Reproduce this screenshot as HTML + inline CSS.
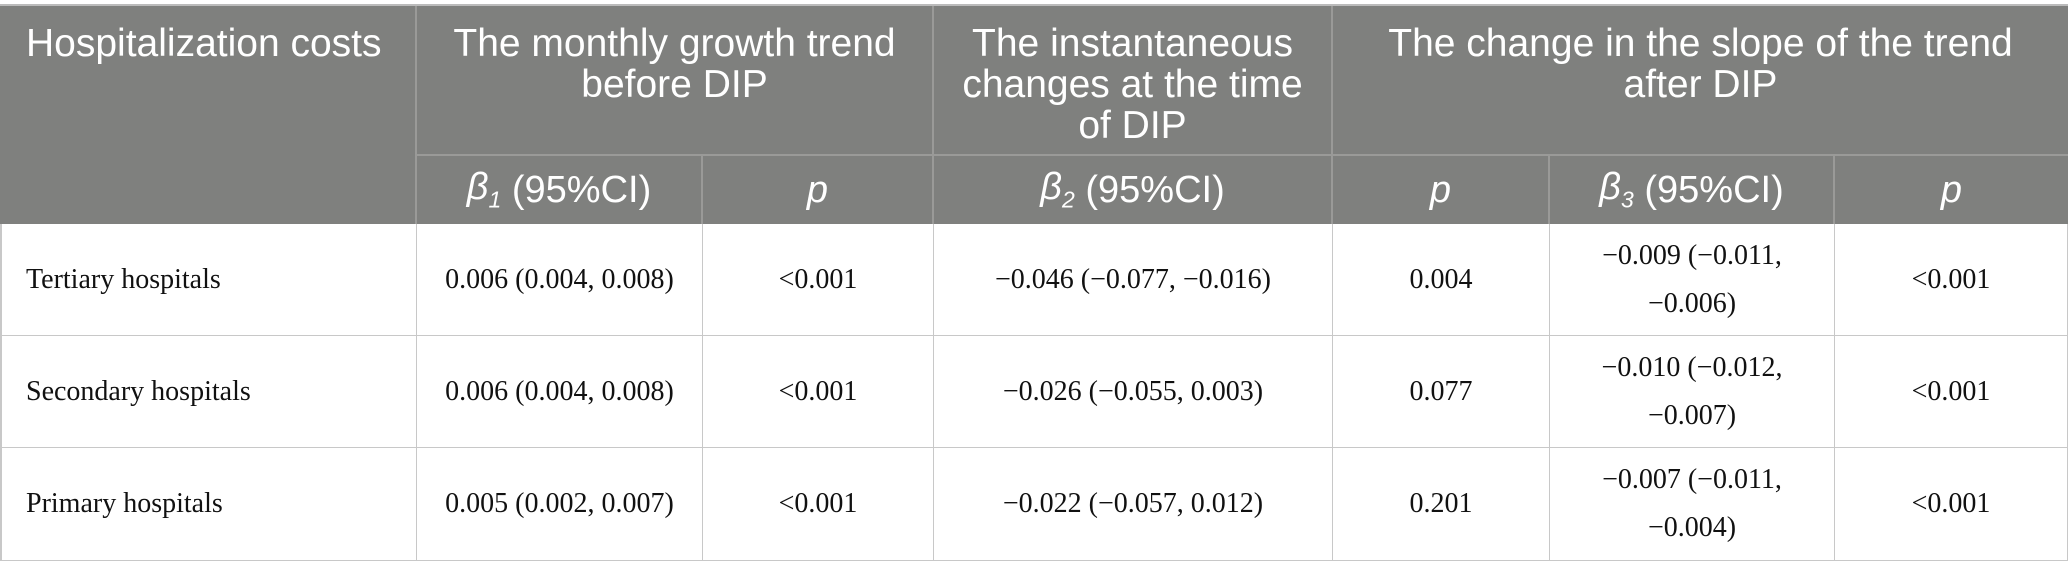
<!DOCTYPE html>
<html><head><meta charset="utf-8"><style>
body{margin:0;width:2068px;height:579px;background:#fff;overflow:hidden;position:relative}
.c{position:absolute;box-sizing:border-box;display:flex;align-items:center;justify-content:center;text-align:center;white-space:nowrap}
.h{background:#7f807e;color:#fff;font-family:"Liberation Sans",sans-serif;font-size:39px;line-height:41px;align-items:flex-start;padding-top:17px;border-right:2px solid #9a9a98;border-bottom:2px solid #9a9a98}
.s{background:#7f807e;color:#fff;font-family:"Liberation Sans",sans-serif;font-size:38px;border-right:2px solid #9a9a98}
.b{font-family:"Liberation Serif",serif;font-size:28px;line-height:48px;color:#111;border-right:1.5px solid #c8c8c8;border-bottom:1.5px solid #c8c8c8}
i{font-style:italic}
</style></head><body>
<div style="position:absolute;left:0;top:4px;width:2068px;height:2px;background:#bbb"></div>
<div class="c h" style="left:0;top:6px;width:417px;height:218px;justify-content:flex-start;padding-left:26px;border-bottom:none">Hospitalization costs</div>
<div class="c h" style="left:417px;top:6px;width:517px;height:150px">The monthly growth trend<br>before DIP</div>
<div class="c h" style="left:934px;top:6px;width:399px;height:150px">The instantaneous<br>changes at the time<br>of DIP</div>
<div class="c h" style="left:1333px;top:6px;width:735px;height:150px;border-right:none">The change in the slope of the trend<br>after DIP</div>
<div class="c s" style="left:417px;top:156px;width:286px;height:68px"><i>β<sub style="font-size:23px">1</sub></i>&nbsp;(95%CI)</div>
<div class="c s" style="left:703px;top:156px;width:231px;height:68px"><i>p</i></div>
<div class="c s" style="left:934px;top:156px;width:399px;height:68px"><i>β<sub style="font-size:23px">2</sub></i>&nbsp;(95%CI)</div>
<div class="c s" style="left:1333px;top:156px;width:217px;height:68px"><i>p</i></div>
<div class="c s" style="left:1550px;top:156px;width:285px;height:68px"><i>β<sub style="font-size:23px">3</sub></i>&nbsp;(95%CI)</div>
<div class="c s" style="left:1835px;top:156px;width:233px;height:68px;border-right:none"><i>p</i></div>

<div style="position:absolute;left:0;top:224px;width:1.5px;height:337px;background:#c8c8c8"></div>
<!-- row1 -->
<div class="c b" style="left:0;top:224px;width:417px;height:112px;justify-content:flex-start;padding-left:26px">Tertiary hospitals</div>
<div class="c b" style="left:417px;top:224px;width:286px;height:112px">0.006 (0.004, 0.008)</div>
<div class="c b" style="left:703px;top:224px;width:231px;height:112px">&lt;0.001</div>
<div class="c b" style="left:934px;top:224px;width:399px;height:112px">−0.046 (−0.077, −0.016)</div>
<div class="c b" style="left:1333px;top:224px;width:217px;height:112px">0.004</div>
<div class="c b" style="left:1550px;top:224px;width:285px;height:112px">−0.009 (−0.011,<br>−0.006)</div>
<div class="c b" style="left:1835px;top:224px;width:233px;height:112px">&lt;0.001</div>
<!-- row2 -->
<div class="c b" style="left:0;top:336px;width:417px;height:112px;justify-content:flex-start;padding-left:26px">Secondary hospitals</div>
<div class="c b" style="left:417px;top:336px;width:286px;height:112px">0.006 (0.004, 0.008)</div>
<div class="c b" style="left:703px;top:336px;width:231px;height:112px">&lt;0.001</div>
<div class="c b" style="left:934px;top:336px;width:399px;height:112px">−0.026 (−0.055, 0.003)</div>
<div class="c b" style="left:1333px;top:336px;width:217px;height:112px">0.077</div>
<div class="c b" style="left:1550px;top:336px;width:285px;height:112px">−0.010 (−0.012,<br>−0.007)</div>
<div class="c b" style="left:1835px;top:336px;width:233px;height:112px">&lt;0.001</div>
<!-- row3 -->
<div class="c b" style="left:0;top:448px;width:417px;height:113px;justify-content:flex-start;padding-left:26px">Primary hospitals</div>
<div class="c b" style="left:417px;top:448px;width:286px;height:113px">0.005 (0.002, 0.007)</div>
<div class="c b" style="left:703px;top:448px;width:231px;height:113px">&lt;0.001</div>
<div class="c b" style="left:934px;top:448px;width:399px;height:113px">−0.022 (−0.057, 0.012)</div>
<div class="c b" style="left:1333px;top:448px;width:217px;height:113px">0.201</div>
<div class="c b" style="left:1550px;top:448px;width:285px;height:113px">−0.007 (−0.011,<br>−0.004)</div>
<div class="c b" style="left:1835px;top:448px;width:233px;height:113px">&lt;0.001</div>
</body></html>
